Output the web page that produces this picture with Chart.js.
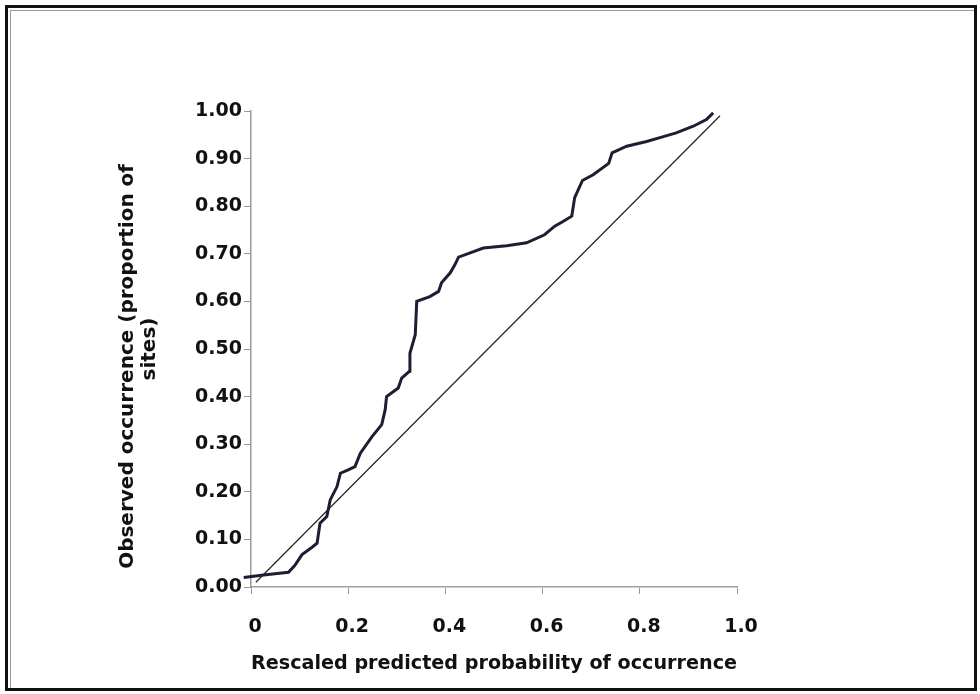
<!DOCTYPE html>
<html>
<head>
<meta charset="utf-8">
<script src="https://cdn.jsdelivr.net/npm/chart.js@4.4.1/dist/chart.umd.min.js"></script>
<style>
  html, body { margin: 0; padding: 0; background: #fff; }
  #wrap { position: relative; width: 980px; height: 694px; }
  #frame { position: absolute; left: 5px; top: 5px; right: 3px; bottom: 3px; border: 3px solid #111; pointer-events: none; }
  #inner { position: absolute; left: 2px; top: 2px; right: 0; bottom: 0; border-left: 1px solid #999; border-top: 1px solid #999; }
</style>
</head>
<body>
<div id="wrap">
  <canvas id="calib_chart"></canvas>
  <div id="frame"><div id="inner"></div></div>
</div>
<script>
  // Observed vs predicted calibration curve
  const curveX = [-0.015, 0.026, 0.077, 0.090, 0.105, 0.125, 0.136, 0.142, 0.156, 0.163,
    0.177, 0.184, 0.200, 0.214, 0.225, 0.249, 0.269, 0.276, 0.279, 0.303,
    0.310, 0.326, 0.327, 0.338, 0.341, 0.368, 0.386, 0.392, 0.410, 0.420,
    0.427, 0.451, 0.478, 0.526, 0.567, 0.604, 0.625, 0.642, 0.660, 0.666,
    0.682, 0.704, 0.736, 0.743, 0.773, 0.814, 0.845, 0.875, 0.910, 0.937, 0.951];
  const curveY = [0.020, 0.025, 0.031, 0.045, 0.068, 0.083, 0.092, 0.134, 0.148, 0.183,
    0.211, 0.239, 0.246, 0.253, 0.281, 0.316, 0.341, 0.372, 0.400, 0.418,
    0.439, 0.453, 0.491, 0.530, 0.600, 0.610, 0.621, 0.639, 0.660, 0.678,
    0.693, 0.702, 0.712, 0.717, 0.723, 0.740, 0.758, 0.768, 0.779, 0.818,
    0.854, 0.866, 0.890, 0.912, 0.926, 0.936, 0.945, 0.954, 0.968, 0.982, 0.996];

  // reference (perfect calibration) line
  const refX = [0.010, 0.965];
  const refY = [0.010, 0.990];

  const xTickValues = [0, 0.2, 0.4, 0.6, 0.8, 1.0];
  const xTickLabels = ['0', '0.2', '0.4', '0.6', '0.8', '1.0'];
  const yTickValues = [0, 0.1, 0.2, 0.3, 0.4, 0.5, 0.6, 0.7, 0.8, 0.9, 1.0];
  const yTickLabels = ['0.00', '0.10', '0.20', '0.30', '0.40', '0.50', '0.60', '0.70', '0.80', '0.90', '1.00'];

  const toPoints = (xs, ys) => xs.map((x, i) => ({ x: x, y: ys[i] }));

  const fontFamily = '"DejaVu Sans", Arial, sans-serif';

  new Chart(document.getElementById('calib_chart'), {
    type: 'scatter',
    data: {
      datasets: [
        {
          label: 'Observed',
          data: toPoints(curveX, curveY),
          showLine: true,
          borderColor: '#1d1d33',
          borderWidth: 3,
          pointRadius: 0,
          tension: 0,
          clip: false
        },
        {
          label: 'Reference',
          data: toPoints(refX, refY),
          showLine: true,
          borderColor: '#222',
          borderWidth: 1.2,
          pointRadius: 0,
          clip: false
        }
      ]
    },
    options: {
      responsive: true,
      maintainAspectRatio: false,
      animation: false,
      layout: { padding: { left: 117, top: 111, right: 243, bottom: 0 } },
      plugins: { legend: { display: false }, tooltip: { enabled: false } },
      scales: {
        x: {
          type: 'linear',
          min: 0,
          max: 1,
          afterBuildTicks: (scale) => { scale.ticks = xTickValues.map(v => ({ value: v })); },
          afterFit: (scale) => { scale.height = 107; },
          grid: { drawOnChartArea: false, drawTicks: true, tickLength: 7, color: '#999' },
          border: { color: '#a0a0a0', width: 1.5 },
          ticks: {
            callback: (v, i) => xTickLabels[i],
            color: '#111',
            padding: 22,
            labelOffset: 4,
            maxRotation: 0,
            font: { family: fontFamily, size: 19, weight: 'bold' }
          },
          title: {
            display: true,
            text: 'Rescaled predicted probability of occurrence',
            color: '#111',
            padding: { top: 0, bottom: 18 },
            font: { family: fontFamily, size: 20, weight: 'bold' }
          }
        },
        y: {
          type: 'linear',
          min: 0,
          max: 1,
          afterBuildTicks: (scale) => { scale.ticks = yTickValues.map(v => ({ value: v })); },
          afterFit: (scale) => { scale.width = 134; },
          grid: { drawOnChartArea: false, drawTicks: true, tickLength: 7, color: '#999' },
          border: { color: '#999', width: 1.5, dash: [2, 1] },
          ticks: {
            callback: (v, i) => yTickLabels[i],
            color: '#111',
            padding: 2,
            font: { family: fontFamily, size: 19, weight: 'bold' }
          },
          title: {
            display: true,
            // trailing spaces nudge the first line down like in the original
            text: ['Observed occurrence (proportion of     ', 'sites)'],
            color: '#111',
            padding: 0,
            font: { family: fontFamily, size: 20, weight: 'bold', lineHeight: 1.1 }
          }
        }
      }
    }
  });
</script>
</body>
</html>
